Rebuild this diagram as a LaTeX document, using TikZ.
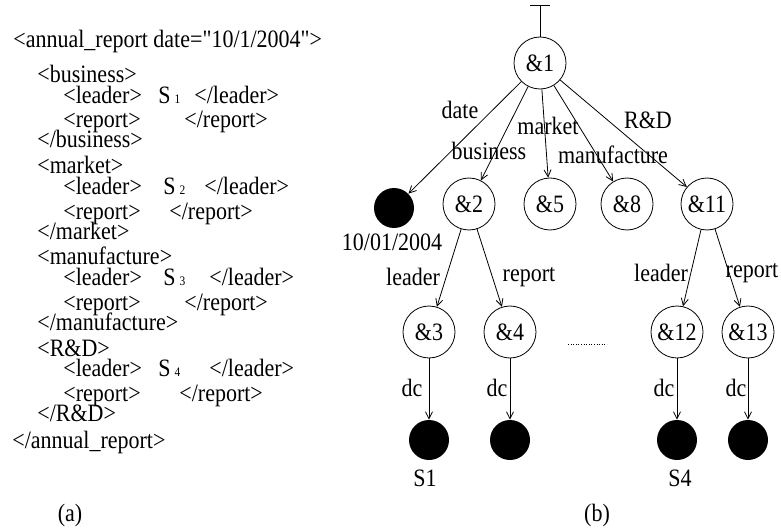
\documentclass[tikz,border=0pt]{standalone}
\usepackage{fontspec}
\setmainfont{Liberation Serif}[Ligatures=TeXOff,FakeStretch=0.88]
\usetikzlibrary{arrows.meta}
\newcommand{\sidx}[1]{S\hspace{4pt}{\fontsize{13pt}{13pt}\selectfont #1}}

\begin{document}
\begin{tikzpicture}[x=1pt,y=-1pt,line width=0.8pt,
        font=\fontsize{25pt}{27pt}\selectfont,
        >={Straight Barb[length=7pt,width=7pt]},
        vnode/.style={draw,circle,minimum size=52pt,inner sep=0pt},
        leaf/.style={fill,circle,minimum size=40pt,inner sep=0pt},
        code/.style={anchor=base west,inner sep=0pt},
        lbl/.style={inner sep=0pt}]
        \useasboundingbox (0,0) rectangle (781,529);

        % (a) XML document
        \node[code] (t0) at (13,48) {<annual\_report date="10/1/2004">};
        \node[code] (t1) at (37,83) {<business>};
        \node[code] (t2) at (63,104) {<leader>};
        \node[code] (s1) at (158,104) {\sidx{1}};
        \node[code] (t2e) at (194,104) {</leader>};
        \node[code] (t3) at (63,128) {<report>};
        \node[code] (t3e) at (184,128) {</report>};
        \node[code] (t4) at (37,148) {</business>};
        \node[code] (t5) at (37,174) {<market>};
        \node[code] (t6) at (63,195) {<leader>};
        \node[code] (s2) at (163,195) {\sidx{2}};
        \node[code] (t6e) at (204,195) {</leader>};
        \node[code] (t7) at (63,220) {<report>};
        \node[code] (t7e) at (169,220) {</report>};
        \node[code] (t8) at (37,240) {</market>};
        \node[code] (t9) at (37,265) {<manufacture>};
        \node[code] (t10) at (63,285) {<leader>};
        \node[code] (s3) at (163,285) {\sidx{3}};
        \node[code] (t10e) at (209,285) {</leader>};
        \node[code] (t11) at (63,310) {<report>};
        \node[code] (t11e) at (184,310) {</report>};
        \node[code] (t12) at (37,330) {</manufacture>};
        \node[code] (t13) at (37,356) {<R\&D>};
        \node[code] (t14) at (63,376) {<leader>};
        \node[code] (s4) at (158,376) {\sidx{4}};
        \node[code] (t14e) at (209,376) {</leader>};
        \node[code] (t15) at (63,401) {<report>};
        \node[code] (t15e) at (179,401) {</report>};
        \node[code] (t16) at (37,421) {</R\&D>};
        \node[code] (t17) at (12,448) {</annual\_report>};
        \node[lbl] (capa) at (70,515) {(a)};

        % (b) tree
        \coordinate (top) at (540,5);
        \node[vnode] (n1) at (540,63) {\&1};
        \draw[{Bar[width=20pt]}-] (top) -- (n1);

        \node[leaf] (d) at (394,208) {};
        \node[vnode] (n2) at (469,204) {\&2};
        \node[vnode] (n5) at (550,204) {\&5};
        \node[vnode] (n8) at (627,204) {\&8};
        \node[vnode] (n11) at (707,204) {\&11};
        \draw[->] (n1) -- (d);
        \draw[->] (n1) -- (n2);
        \draw[->] (n1) -- (n5);
        \draw[->] (n1) -- (n8);
        \draw[->] (n1) -- (n11);
        \node[lbl] (ldate) at (460,110) {date};
        \node[lbl] (lbus) at (489,151) {business};
        \node[lbl] (lmkt) at (548,126) {market};
        \node[lbl] (lman) at (613,155) {manufacture};
        \node[lbl] (lrd) at (648,120) {R\&D};
        \node[lbl] (ldval) at (392,242) {10/01/2004};

        \node[vnode] (n3) at (429,332) {\&3};
        \node[vnode] (n4) at (510,332) {\&4};
        \node[vnode] (n12) at (677,332) {\&12};
        \node[vnode] (n13) at (748,332) {\&13};
        \draw[->] (n2) -- (n3);
        \draw[->] (n2) -- (n4);
        \draw[->] (n11) -- (n12);
        \draw[->] (n11) -- (n13);
        \node[lbl] (ll3) at (413,277) {leader};
        \node[lbl] (lr4) at (529,277) {report};
        \node[lbl] (ll12) at (661,273) {leader};
        \node[lbl] (lr13) at (752,273) {report};

        % dots between the subtrees
        \coordinate (dotl) at (568,344);
        \coordinate (dotr) at (607,344);
        \draw[dotted,line width=0.6pt] (dotl) -- (dotr);

        % leaves
        \node[leaf] (l3) at (429,440) {};
        \node[leaf] (l4) at (510,440) {};
        \node[leaf] (l12) at (677,440) {};
        \node[leaf] (l13) at (748,440) {};
        \draw[->] (n3) -- (l3);
        \draw[->] (n4) -- (l4);
        \draw[->] (n12) -- (l12);
        \draw[->] (n13) -- (l13);
        \node[lbl] (dc3) at (412,388) {dc};
        \node[lbl] (dc4) at (497,388) {dc};
        \node[lbl] (dc12) at (664,388) {dc};
        \node[lbl] (dc13) at (736,388) {dc};
        \node[lbl] (vs1) at (425,478) {S1};
        \node[lbl] (vs4) at (680,478) {S4};
        \node[lbl] (capb) at (597,515) {(b)};
\end{tikzpicture}
\end{document}
